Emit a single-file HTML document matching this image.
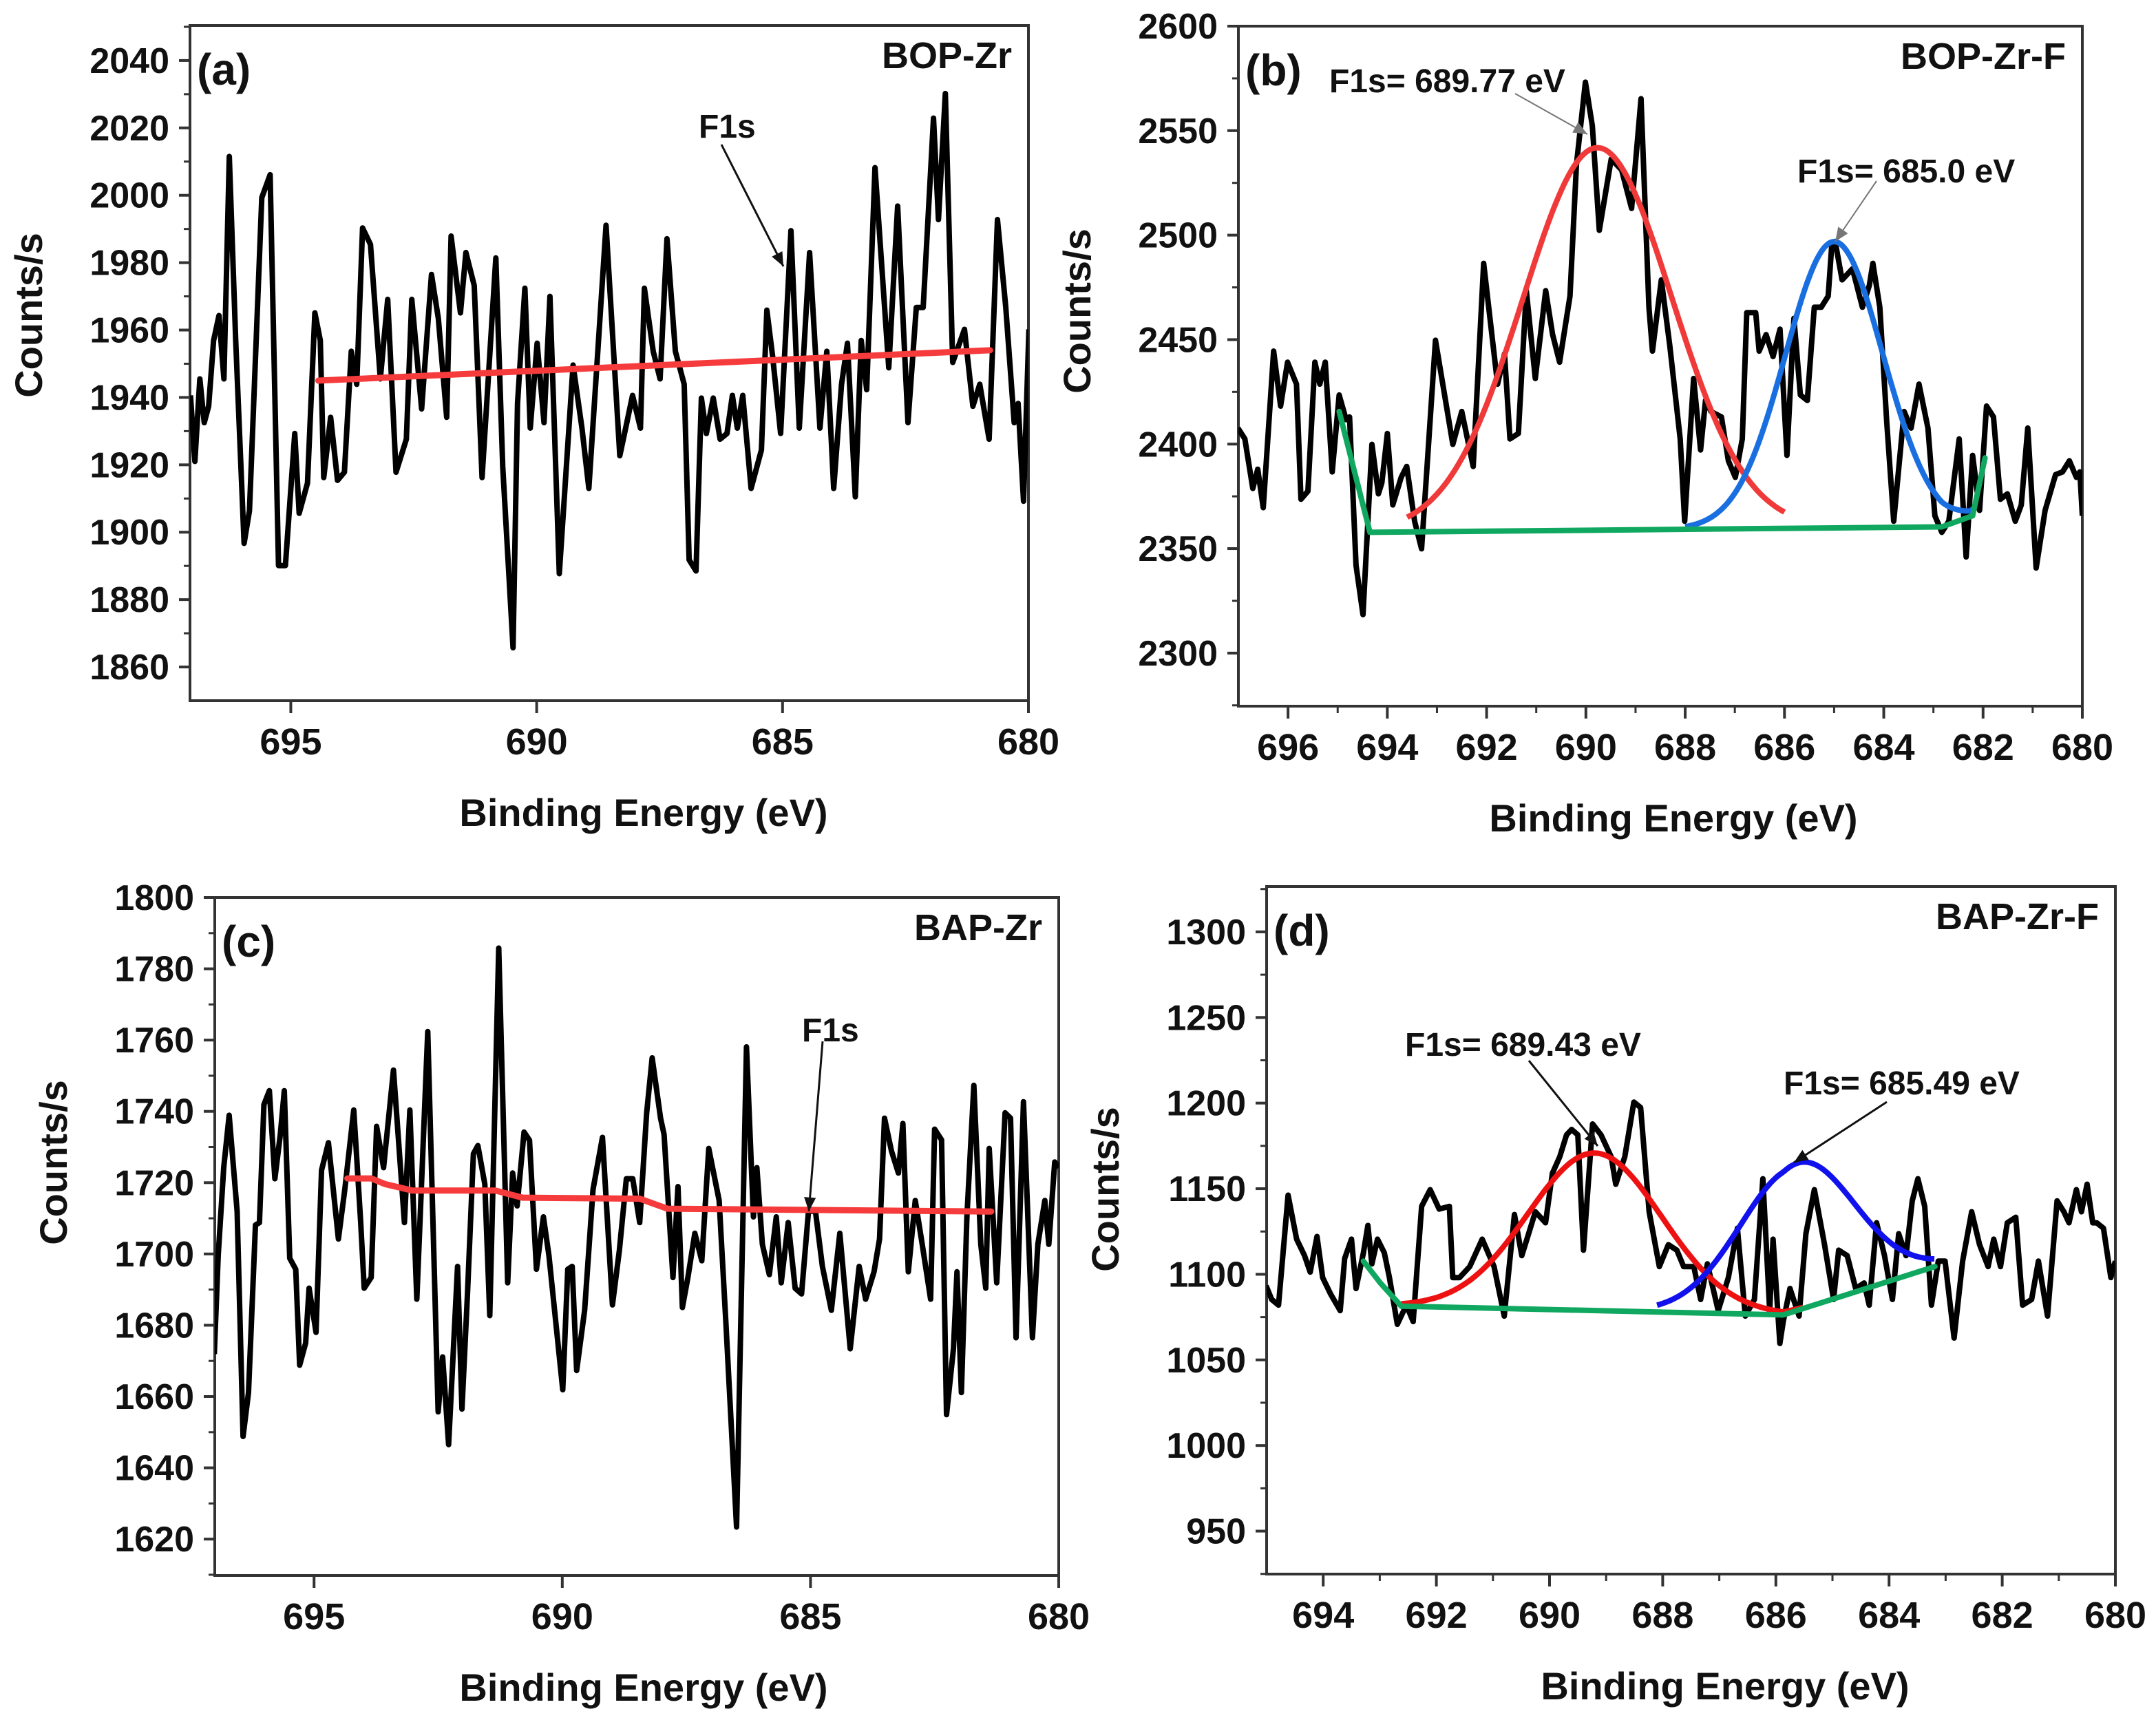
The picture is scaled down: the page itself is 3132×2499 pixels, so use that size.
<!DOCTYPE html>
<html><head><meta charset="utf-8"><style>
html,body{margin:0;padding:0;background:#fff;}
svg{display:block;font-family:"Liberation Sans",Arial,sans-serif;font-weight:bold;}
</style></head><body>
<svg id="fig" width="3132" height="2499" viewBox="0 0 3132 2499" xmlns="http://www.w3.org/2000/svg">
<rect x="0" y="0" width="3132" height="2499" fill="#fff"/>
</svg>
<script>
// ---------- Panel (a) BOP-Zr ----------
const aEnergy=[697.04,696.95,696.85,696.76,696.67,696.57,696.46,696.36,696.25,696.12,695.95,695.84,695.59,695.42,695.25,695.11,694.92,694.83,694.66,694.51,694.40,694.33,694.19,694.05,693.91,693.77,693.66,693.54,693.38,693.18,693.03,692.86,692.65,692.54,692.34,692.14,692.00,691.83,691.74,691.55,691.44,691.27,691.11,690.83,690.69,690.48,690.39,690.24,690.13,689.99,689.85,689.73,689.54,689.26,689.08,688.94,688.59,688.31,688.19,688.05,687.89,687.81,687.63,687.49,687.35,687.18,687.00,686.90,686.76,686.65,686.55,686.41,686.27,686.13,686.02,685.92,685.81,685.64,685.43,685.32,685.20,685.04,684.83,684.66,684.45,684.24,684.10,683.96,683.80,683.68,683.52,683.40,683.29,683.12,682.84,682.66,682.45,682.28,682.14,681.93,681.83,681.69,681.54,681.30,681.13,680.99,680.80,680.63,680.46,680.29,680.21,680.10,679.99];
const aCounts=[1940.6,1921,1945.5,1932.5,1937.4,1956.9,1964.3,1945.5,2011.5,1956.9,1896.7,1906.4,1999.3,2006.1,1890.1,1890.1,1929.3,1905.6,1914.6,1965.1,1956.9,1916.2,1934.1,1915.4,1917.8,1953.7,1943.9,1990.3,1985.4,1945.5,1969.1,1917.8,1927.6,1969.1,1936.6,1976.5,1963.4,1934.1,1987.9,1965.1,1983.0,1973.2,1916.2,1981.4,1919.5,1865.7,1938.2,1972.4,1930.9,1956.1,1932.5,1970.0,1887.7,1949.6,1930.9,1913.0,1991.1,1922.7,1930.9,1940.6,1930.9,1972.4,1953.7,1945.5,1987.1,1953.7,1943.9,1891.8,1888.5,1939.8,1929.3,1939.8,1927.6,1929.3,1940.6,1930.9,1940.6,1913.0,1924.4,1965.9,1952.0,1929.3,1989.5,1930.9,1983.0,1930.9,1953.7,1913.0,1943.9,1956.1,1910.5,1956.9,1942.3,2008.2,1948.8,1996.8,1932.5,1966.7,1966.7,2022.9,1992.8,2030.2,1950.4,1960.2,1937.4,1943.9,1927.6,1992.8,1966.7,1932.5,1938.2,1909.2,1960.2];
const aBgEnergy=[694.44,680.78];
const aBgCounts=[1945.0,1954.0];
const aXTicks=[695,690,685,680];
const aYTicks=[1860,1880,1900,1920,1940,1960,1980,2000,2020,2040];

// ---------- Panel (b) BOP-Zr-F ----------
const bEnergy=[697.01,696.87,696.71,696.61,696.50,696.29,696.15,696.01,695.83,695.74,695.60,695.46,695.36,695.25,695.11,694.97,694.83,694.76,694.63,694.49,694.31,694.18,694.11,694.00,693.89,693.72,693.61,693.45,693.31,693.03,692.68,692.50,692.27,692.06,691.92,691.78,691.64,691.53,691.36,691.20,691.02,690.81,690.67,690.53,690.32,690.19,690.01,689.87,689.73,689.49,689.28,689.08,688.89,688.73,688.66,688.48,688.31,688.10,688.01,687.83,687.69,687.59,687.48,687.27,687.13,686.99,686.85,686.76,686.58,686.51,686.37,686.23,686.09,685.95,685.81,685.68,685.54,685.40,685.26,685.12,685.05,684.98,684.84,684.63,684.43,684.29,684.22,684.08,683.94,683.80,683.59,683.45,683.29,683.11,682.97,682.83,682.69,682.48,682.34,682.21,682.07,681.93,681.79,681.65,681.51,681.35,681.23,681.10,680.93,680.75,680.54,680.40,680.26,680.12,680.05,680.00];
const bCounts=[2407.7,2402.5,2378.8,2388.0,2369.6,2444.5,2418.2,2439.2,2428.7,2373.6,2377.5,2439.2,2428.7,2439.2,2386.7,2423.5,2411.7,2413.0,2342.0,2318.4,2399.9,2376.2,2381.5,2405.1,2370.9,2384.1,2389.3,2363.1,2349.9,2449.7,2399.9,2415.6,2389.3,2486.5,2457.6,2428.7,2443.2,2402.5,2405.1,2473.4,2431.4,2473.4,2452.4,2439.2,2470.8,2533.8,2573.2,2552.2,2502.3,2536.4,2531.2,2512.8,2565.3,2465.5,2444.5,2478.6,2447.1,2402.5,2363.1,2431.4,2397.2,2420.9,2415.6,2413.0,2392.0,2384.1,2402.5,2462.9,2462.9,2444.5,2452.4,2441.9,2455.0,2394.6,2460.2,2423.5,2420.9,2465.5,2465.5,2470.8,2494.4,2497.0,2478.6,2483.9,2465.5,2476.0,2486.5,2465.5,2410.3,2363.1,2415.6,2407.7,2428.7,2407.7,2365.7,2357.8,2363.1,2402.5,2346.0,2394.6,2368.3,2418.2,2413.0,2373.6,2376.2,2363.1,2370.9,2407.7,2340.7,2368.3,2385.4,2386.7,2392.0,2384.1,2386.7,2365.7];
const bBaseEnergy=[694.97,694.35,682.83,682.21,681.96];
const bBaseCounts=[2415.6,2357.8,2360.4,2365.7,2393.4];
const bPeakCenters=[689.77,685.0];
const bPeakHeights=[183,137];
const bPeakSigmas=[1.5,0.98];
const bPeakRanges=[[693.6,686.0],[688.0,682.2]];
const bXTicks=[696,694,692,690,688,686,684,682,680];
const bYTicks=[2300,2350,2400,2450,2500,2550,2600];

// ---------- Panel (c) BAP-Zr ----------
const cEnergy=[697.01,696.93,696.82,696.71,696.55,696.43,696.32,696.18,696.10,696.01,695.90,695.79,695.68,695.60,695.49,695.37,695.29,695.17,695.10,694.96,694.85,694.71,694.51,694.38,694.20,694.06,693.99,693.85,693.74,693.60,693.40,693.18,693.07,692.93,692.71,692.50,692.41,692.29,692.11,692.02,691.91,691.79,691.70,691.56,691.46,691.28,691.10,691.00,690.91,690.77,690.66,690.52,690.38,690.27,689.99,689.89,689.80,689.71,689.55,689.38,689.19,688.99,688.85,688.71,688.58,688.44,688.30,688.19,688.02,687.95,687.77,687.67,687.58,687.47,687.33,687.19,687.05,686.84,686.70,686.49,686.29,686.15,686.08,685.97,685.83,685.69,685.59,685.45,685.31,685.18,685.04,684.90,684.76,684.58,684.41,684.20,684.02,683.89,683.72,683.61,683.51,683.37,683.23,683.14,683.03,682.89,682.75,682.58,682.50,682.36,682.26,682.12,682.05,681.96,681.85,681.71,681.57,681.47,681.40,681.25,681.08,680.97,680.86,680.71,680.53,680.42,680.28,680.20,680.08,680.00];
const cCounts=[1671.9,1699.6,1724.2,1738.9,1711.9,1648.8,1661.1,1708.1,1708.8,1741.9,1745.8,1721.1,1733.5,1745.8,1698.8,1695.7,1668.8,1675.0,1690.4,1678.0,1723.5,1731.2,1704.2,1718.1,1740.4,1708.8,1690.4,1693.4,1735.8,1724.2,1751.6,1708.8,1740.4,1687.3,1762.4,1655.7,1671.1,1646.5,1696.5,1656.5,1688.8,1728.1,1730.4,1719.6,1682.7,1785.8,1691.9,1722.7,1713.5,1734.2,1731.9,1695.7,1710.4,1699.6,1661.9,1695.7,1696.5,1667.3,1684.2,1718.1,1732.7,1685.7,1701.1,1721.1,1721.1,1708.8,1739.6,1755.0,1738.1,1733.5,1693.4,1718.9,1685.0,1693.4,1705.8,1698.1,1729.6,1715.0,1679.6,1623.4,1758.1,1710.4,1724.2,1702.7,1694.2,1710.4,1691.9,1708.8,1690.4,1688.8,1712.0,1712.0,1696.5,1684.2,1705.8,1673.4,1696.5,1687.3,1695.0,1704.2,1738.1,1728.9,1722.7,1736.6,1695.0,1715.0,1702.7,1687.3,1735.0,1732.0,1654.9,1673.4,1695.0,1661.1,1710.4,1747.3,1702.7,1690.4,1729.6,1691.9,1739.6,1738.1,1676.5,1742.7,1676.5,1702.7,1715.0,1702.7,1725.8,1724.2];
const cBgEnergy=[694.33,693.85,693.57,693.02,691.35,690.80,688.44,687.88,681.36];
const cBgCounts=[1721.2,1721.2,1719.6,1717.8,1717.8,1715.8,1715.5,1712.7,1711.9];
const cXTicks=[695,690,685,680];
const cYTicks=[1620,1640,1660,1680,1700,1720,1740,1760,1780,1800];

// ---------- Panel (d) BAP-Zr-F ----------
const dEnergy=[695.01,694.91,694.79,694.62,694.47,694.33,694.23,694.11,694.01,693.87,693.70,693.62,693.50,693.42,693.29,693.21,693.14,693.04,692.92,692.83,692.69,692.53,692.41,692.26,692.11,691.95,691.77,691.71,691.59,691.41,691.19,690.98,690.80,690.62,690.49,690.37,690.25,690.07,689.95,689.82,689.70,689.61,689.50,689.40,689.24,689.09,688.91,688.83,688.67,688.51,688.39,688.24,688.06,687.90,687.75,687.63,687.45,687.33,687.21,687.02,686.84,686.68,686.54,686.38,686.23,686.11,686.05,685.93,685.87,685.75,685.59,685.47,685.32,685.14,684.98,684.89,684.74,684.59,684.44,684.35,684.22,684.08,683.94,683.83,683.70,683.59,683.49,683.37,683.25,683.13,683.01,682.85,682.70,682.54,682.40,682.25,682.15,682.03,681.91,681.76,681.64,681.48,681.36,681.20,681.03,680.91,680.82,680.69,680.60,680.50,680.40,680.33,680.21,680.08,680.00];
const dCounts=[1093.3,1085.3,1082.0,1146.2,1120.5,1110.9,1101.3,1122.1,1098.1,1088.5,1078.8,1109.3,1120.5,1091.7,1112.5,1128.5,1106.1,1120.5,1112.5,1098.1,1070.8,1082.0,1072.4,1139.7,1149.4,1138.1,1139.7,1098.1,1098.1,1104.5,1120.5,1104.5,1075.6,1134.9,1110.9,1123.7,1136.5,1130.1,1159.0,1168.6,1181.4,1184.6,1181.4,1114.1,1187.8,1181.4,1168.6,1152.6,1168.6,1200.6,1197.4,1136.5,1104.5,1117.3,1114.1,1104.5,1104.5,1085.3,1106.1,1078.8,1098.1,1126.9,1075.6,1085.3,1155.8,1078.8,1120.5,1059.6,1072.4,1091.7,1075.6,1123.7,1149.4,1117.3,1085.3,1114.1,1110.9,1091.7,1094.9,1082.0,1130.1,1110.9,1085.3,1123.7,1110.9,1142.9,1155.8,1139.7,1082.0,1107.7,1107.7,1062.8,1107.7,1136.5,1117.3,1104.5,1120.5,1104.5,1130.1,1133.3,1082.0,1085.3,1107.7,1075.6,1142.9,1136.5,1130.1,1149.4,1136.5,1152.6,1130.1,1130.1,1126.9,1098.1,1107.7];
const dBaseEnergy=[693.29,692.99,692.62,685.87,683.19];
const dBaseCounts=[1107.7,1094.9,1081.4,1076.3,1104.5];
const dPeakCenters=[689.2,685.62];
const dPeakHeights=[92,86];
const dPeakSigmas=[1.18,1.0];
const dPeakRanges=[[692.62,685.5],[688.1,683.2]];
const dXTicks=[694,692,690,688,686,684,682,680];
const dYTicks=[950,1000,1050,1100,1150,1200,1250,1300];

const NS="http://www.w3.org/2000/svg";
const svg=document.getElementById('fig');
function mk(tag,attrs,parent){const e=document.createElementNS(NS,tag);for(const k in attrs)e.setAttribute(k,attrs[k]);(parent||svg).appendChild(e);return e;}
function interp(xs,ys,x){
  for(let i=0;i<xs.length-1;i++){const a=xs[i],b=xs[i+1];if((x<=a&&x>=b)||(x>=a&&x<=b)){const t=(x-a)/(b-a);return ys[i]+t*(ys[i+1]-ys[i]);}}
  return x>xs[0]?ys[0]:ys[ys.length-1];
}
function drawPanel(p){
  const g=mk('g',{});
  
  
  const X=v=>p.l+(p.xd[0]-v)/(p.xd[0]-p.xd[1])*(p.r-p.l);
  const Y=v=>p.b-(v-p.yd[0])/(p.yd[1]-p.yd[0])*(p.b-p.t);
  // clip
  const cp=mk('clipPath',{id:'clip-'+p.name},g);
  mk('rect',{x:p.l,y:p.t,width:p.r-p.l,height:p.b-p.t},cp);
  // frame
  const fr=mk('rect',{x:p.l,y:p.t,width:p.r-p.l,height:p.b-p.t,fill:'none',stroke:'#333',"stroke-width":4},g);
  
  
  // y ticks
  const ystep=p.yt[1]-p.yt[0];
  p.yt.forEach((v,i)=>{
    const y=Y(v);
    const tk=mk('line',{x1:p.l-16,x2:p.l,y1:y,y2:y,stroke:'#333',"stroke-width":4},g);
    
    
    const m=v+ystep/2;
    if(m<p.yd[1]){const my=Y(m);const mt=mk('line',{x1:p.l-9,x2:p.l,y1:my,y2:my,stroke:'#333',"stroke-width":3},g);
      
      }
    if(i===0){const m2=v-ystep/2;if(m2>p.yd[0]){const my=Y(m2);const mt=mk('line',{x1:p.l-9,x2:p.l,y1:my,y2:my,stroke:'#333',"stroke-width":3},g);
      
      }}
    const tl=mk('text',{x:p.l-30,y:y+18,"text-anchor":"end","font-size":52,fill:'#111'},g);
    tl.textContent=v;
    
    
  });
  // x ticks
  const xstep=p.xt[0]-p.xt[1];
  p.xt.forEach((v,i)=>{
    const x=X(v);
    const tk=mk('line',{x1:x,x2:x,y1:p.b,y2:p.b+18,stroke:'#333',"stroke-width":4},g);
    
    
    if(p.xminor){const m=v+xstep/2;if(m<p.xd[0]){const mx=X(m);const mt=mk('line',{x1:mx,x2:mx,y1:p.b,y2:p.b+10,stroke:'#333',"stroke-width":3},g);
      
      }}
    const tl=mk('text',{x:x,y:p.b+78,"text-anchor":"middle","font-size":54,fill:'#111'},g);
    tl.textContent=v;
    
    
  });
  // titles
  const xt=mk('text',{x:p.xtx,y:p.b+182,"text-anchor":"middle","font-size":56,fill:'#111'},g);
  xt.textContent='Binding Energy (eV)';
  
  
  const yt=mk('text',{x:0,y:0,"text-anchor":"middle","font-size":56,fill:'#111',transform:`translate(${p.l-215},${p.yty}) rotate(-90)`},g);
  yt.textContent='Counts/s';
  
  
  const pl=mk('text',{x:p.l+10,y:p.t+86,"font-size":64,fill:'#111'},g);
  pl.textContent=p.label;
  
  
  const sn=mk('text',{x:p.r-24,y:p.t+62,"text-anchor":"end","font-size":54,fill:'#111'},g);
  sn.textContent=p.sample;
  
  
  const cg=mk('g',{"clip-path":`url(#clip-${p.name})`},g);
  // raw spectrum
  const d=p.ex.map((e,i)=>(i?'L':'M')+X(e).toFixed(1)+','+Y(p.cy[i]).toFixed(1)).join(' ');
  const raw=mk('path',{d:d,fill:'none',stroke:'#000',"stroke-width":8,"stroke-linejoin":"round"},cg);
  
  
  // peaks
  if(p.pc){
    const cols=['#f03a3a','#1a6fe0'];
    if(p.name==='panel-d'){cols[0]='#ee1111';cols[1]='#1111ee';}
    p.pc.forEach((c,k)=>{
      const pts=[];const [e0,e1]=p.pr[k];
      for(let e=e0;e>=e1-1e-9;e-=0.05){
        const v=interp(p.bx,p.by,e)+p.ph[k]*Math.exp(-((e-c)*(e-c))/(2*p.ps[k]*p.ps[k]));
        pts.push((pts.length?'L':'M')+X(e).toFixed(1)+','+Y(v).toFixed(1));
      }
      const pk=mk('path',{d:pts.join(' '),fill:'none',stroke:cols[k],"stroke-width":8,"stroke-linejoin":"round"},cg);
      
      
    });
  }
  // baseline
  const bd=p.bx.map((e,i)=>(i?'L':'M')+X(e).toFixed(1)+','+Y(p.by[i]).toFixed(1)).join(' ');
  const bl=mk('path',{d:bd,fill:'none',stroke:p.bcol,"stroke-width":p.bw,"stroke-linejoin":"round","stroke-linecap":"round"},cg);
  
  
  return g;
}
drawPanel({name:'panel-a',l:276,r:1494,t:37,b:1018,xd:[697.05,680],yd:[1850,2050.4],xt:aXTicks,yt:aYTicks,xminor:false,
  ex:aEnergy,cy:aCounts,bx:aBgEnergy,by:aBgCounts,bcol:'#f53b3b',bw:9,label:'(a)',sample:'BOP-Zr',xtx:935,yty:458});
drawPanel({name:'panel-b',l:1799,r:3025,t:38,b:1026,xd:[697.0,680],yd:[2274.6,2600],xt:bXTicks,yt:bYTicks,xminor:true,
  ex:bEnergy,cy:bCounts,bx:bBaseEnergy,by:bBaseCounts,bcol:'#10a860',bw:8,pc:bPeakCenters,ph:bPeakHeights,ps:bPeakSigmas,pr:bPeakRanges,
  label:'(b)',sample:'BOP-Zr-F',xtx:2431,yty:452});
drawPanel({name:'panel-c',l:312,r:1538,t:1304,b:2289,xd:[697.0,680],yd:[1609.8,1800],xt:cXTicks,yt:cYTicks,xminor:false,
  ex:cEnergy,cy:cCounts,bx:cBgEnergy,by:cBgCounts,bcol:'#f53b3b',bw:9,label:'(c)',sample:'BAP-Zr',xtx:935,yty:1689});
drawPanel({name:'panel-d',l:1840,r:3073,t:1288,b:2287,xd:[695.0,680],yd:[924.9,1326.5],xt:dXTicks,yt:dYTicks,xminor:true,
  ex:dEnergy,cy:dCounts,bx:dBaseEnergy,by:dBaseCounts,bcol:'#10a860',bw:8,pc:dPeakCenters,ph:dPeakHeights,ps:dPeakSigmas,pr:dPeakRanges,
  label:'(d)',sample:'BAP-Zr-F',xtx:2506,yty:1728});

// annotations
function ann(txt,x,y,x1,y1,x2,y2,col,w,fs,name){
  const t=mk('text',{x:x,y:y,"font-size":fs,fill:'#111'});
  t.textContent=txt;
  
  
  const l=mk('line',{x1:x1,y1:y1,x2:x2,y2:y2,stroke:col,"stroke-width":w});
  
  
  const a=Math.atan2(y2-y1,x2-x1),L=22,s=0.4;
  const h=mk('polygon',{points:`${x2},${y2} ${x2-L*Math.cos(a-s)},${y2-L*Math.sin(a-s)} ${x2-L*Math.cos(a+s)},${y2-L*Math.sin(a+s)}`,fill:col});
  
  
}
ann('F1s',1015,200,1048,210,1138,387,'#111',3,48,'f1s-annotation-a');
ann('F1s= 689.77 eV',1931,134,2201,136,2306,195,'#777',2,48,'f1s-annotation-b-1');
ann('F1s= 685.0 eV',2611,265,2726,263,2666,351,'#777',2,48,'f1s-annotation-b-2');
ann('F1s',1165,1513,1195,1513,1175,1760,'#111',3,48,'f1s-annotation-c');
ann('F1s= 689.43 eV',2041,1534,2221,1541,2321,1665,'#111',3,48,'f1s-annotation-d-1');
ann('F1s= 685.49 eV',2591,1590,2741,1601,2606,1689,'#111',3,48,'f1s-annotation-d-2');
</script>
</body></html>
